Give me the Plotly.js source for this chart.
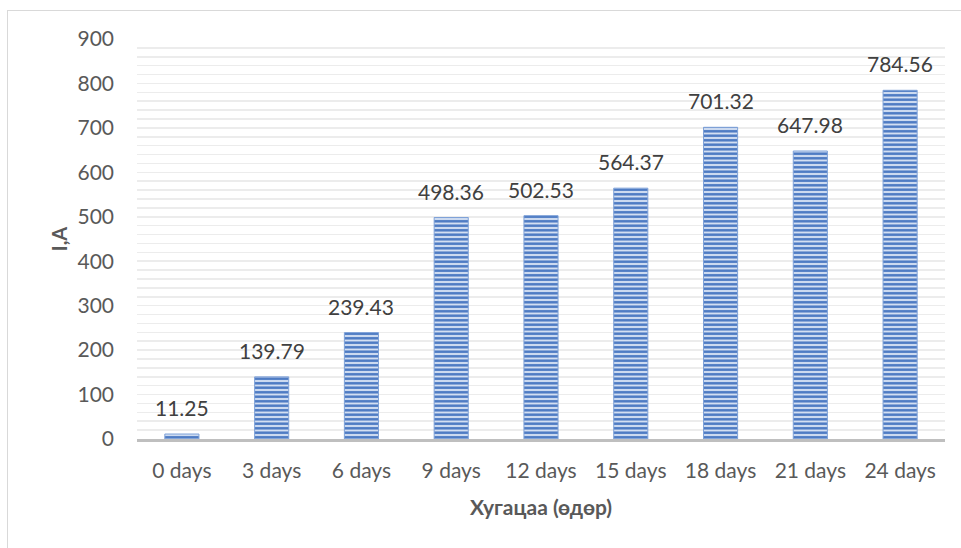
<!DOCTYPE html>
<html>
<head>
<meta charset="utf-8">
<script src="https://cdn.plot.ly/plotly-3.0.1.min.js"></script>
<style>
  html, body { margin: 0; padding: 0; background: #fff; }
  #wrap { position: relative; width: 961px; height: 548px; }
  #frame { position: absolute; left: 7px; top: 10px; width: 960px; height: 540px;
           border-left: 1.5px solid #d9d9d9; border-top: 1.5px solid #d9d9d9; pointer-events: none; z-index: 5; }
  #chart { position: absolute; left: 0; top: 0; width: 961px; height: 548px; }
</style>
</head>
<body>
<div id="wrap">
  <div id="chart"></div>
  <div id="frame"></div>
</div>
<script>
const categories = ["0 days", "3 days", "6 days", "9 days", "12 days", "15 days", "18 days", "21 days", "24 days"];
const values = [11.25, 139.79, 239.43, 498.36, 502.53, 564.37, 701.32, 647.98, 784.56];
const valueLabels = ["11.25", "139.79", "239.43", "498.36", "502.53", "564.37", "701.32", "647.98", "784.56"];
const yTickValues = [0, 100, 200, 300, 400, 500, 600, 700, 800, 900];
const xTitle = "Хугацаа (өдөр)";
const yTitle = "I,A";

const FONT = "Lato, 'Open Sans', sans-serif";

const trace = {
  type: "bar",
  x: categories,
  y: values,
  width: 0.38,
  marker: {
    color: "#c9d7ef",
    line: { color: "#7fa2d8", width: 1 },
    pattern: { shape: "-", fgcolor: "#4a78c2", bgcolor: "#d3dff2", size: 4.5, solidity: 0.55, fillmode: "replace" }
  },
  hoverinfo: "skip"
};

const annotations = categories.map((c, i) => ({
  x: c, y: values[i], xref: "x", yref: "y",
  text: valueLabels[i], showarrow: false,
  yanchor: "bottom", yshift: 12,
  font: { family: FONT, size: 21, color: "#404040" }
}));

const layout = {
  width: 961, height: 548,
  margin: { l: 137, r: 16, t: 39, b: 109 },
  paper_bgcolor: "#ffffff", plot_bgcolor: "#ffffff",
  showlegend: false,
  bargap: 0.62,
  xaxis: {
    type: "category",
    showgrid: false,
    showline: true, linecolor: "#bfbfbf", linewidth: 3,
    ticks: "", ticklabelstandoff: 11,
    tickfont: { family: FONT, size: 21, color: "#595959" },
    title: { text: "<b>" + xTitle + "</b>", font: { family: FONT, size: 21, color: "#595959" }, standoff: 20 },
    fixedrange: true
  },
  yaxis: {
    range: [0, 900],
    tickvals: yTickValues,
    showgrid: true, gridcolor: "#ececec", gridwidth: 1.5,
    minor: { dtick: 20, showgrid: true, gridcolor: "#ececec", gridwidth: 1.5 },
    zeroline: false,
    showline: false, ticks: "", ticklabelstandoff: 22,
    tickfont: { family: FONT, size: 21, color: "#595959" },
    title: { text: "<b>" + yTitle + "</b>", font: { family: FONT, size: 20, color: "#595959" }, standoff: 4 },
    fixedrange: true
  },
  annotations: annotations
};

Plotly.newPlot("chart", [trace], layout, { displayModeBar: false, staticPlot: true });
</script>
</body>
</html>
